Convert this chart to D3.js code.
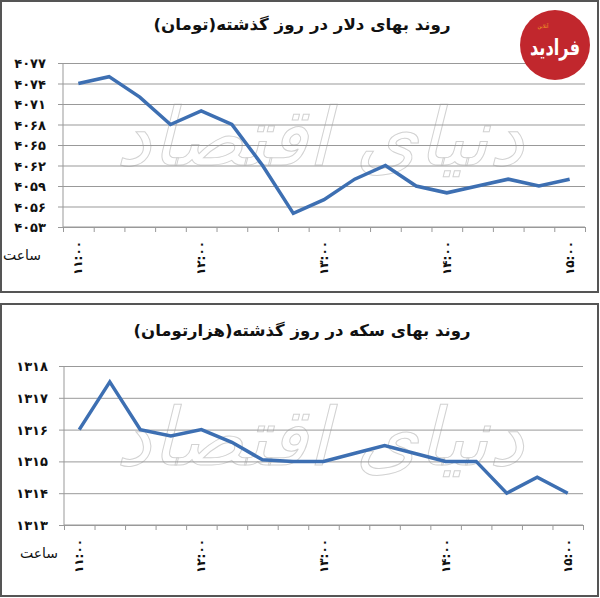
<!DOCTYPE html>
<html><head><meta charset="utf-8">
<script src="https://cdn.jsdelivr.net/npm/d3@7/dist/d3.min.js"></script>
<style>
html,body{margin:0;padding:0;background:#fff;}
svg{display:block;}
text{font-family:"DejaVu Sans",sans-serif;}
</style></head>
<body>
<svg id="c" width="600" height="598"></svg>
<script>
// ---- data ----
const times = ["11:00","11:15","11:30","11:45","12:00","12:15","12:30","12:45","13:00","13:15","13:30","13:45","14:00","14:15","14:30","14:45","15:00"];
const hourLabels = ["11:00","12:00","13:00","14:00","15:00"];
const dollarValues = [4074,4075,4072,4068,4070,4068,4062,4055,4057,4060,4062,4059,4058,4059,4060,4059,4060];
const dollarTicks = [4053,4056,4059,4062,4065,4068,4071,4074,4077];
const coinValues = [1316,1317.5,1316,1315.8,1316,1315.6,1315.05,1315,1315,1315.25,1315.5,1315.25,1315,1315,1314,1314.5,1314];
const coinTicks = [1313,1314,1315,1316,1317,1318];
const titles = ["روند بهای دلار در روز گذشته(تومان)", "روند بهای سکه در روز گذشته(هزارتومان)"];
const xAxisTitle = "ساعت";
const watermark = "دنیای اقتصاد";
const logoText = "فرادید";

const fa = s => String(s).replace(/\d/g, d => "۰۱۲۳۴۵۶۷۸۹"[d]);
const svg = d3.select("#c");

function panel(cfg){
  const g = svg.append("g");
  g.append("rect").attr("x",1).attr("y",cfg.top+1).attr("width",597).attr("height",cfg.h)
    .attr("fill","#fff").attr("stroke","#555").attr("stroke-width",2);
  g.append("text").attr("x",302).attr("y",cfg.titleY).attr("text-anchor","middle")
    .attr("font-size",16).attr("font-weight","bold").attr("fill","#111")
    .attr("direction","rtl").attr("textLength",cfg.titleW).attr("lengthAdjust","spacingAndGlyphs")
    .text(cfg.title);

  const y = d3.scaleLinear().domain(cfg.domain).range([cfg.y1,cfg.y0]);
  const xb = d3.scaleBand().domain(times).range([cfg.x0,cfg.x1]);
  const xi = d3.scaleLinear().domain([0,times.length]).range([cfg.x0,cfg.x1]);

  // watermark
  g.append("text").attr("x",320).attr("y",cfg.wmY).attr("text-anchor","middle")
    .attr("font-size",80).attr("fill","none").attr("stroke","#d2d2d2").attr("stroke-width",1)
    .attr("direction","rtl").attr("font-style","italic").text(watermark);

  const ga = g.append("g").attr("transform",`translate(${cfg.x0},0)`)
    .call(d3.axisLeft(y).tickValues(cfg.ticks).tickSize(5).tickFormat(""));
  ga.select(".domain").attr("stroke","#999").attr("d",`M0,${cfg.y0}V${cfg.y1}`);
  ga.selectAll(".tick line").attr("stroke","#999");
  ga.selectAll(".tick").append("line").attr("x1",0).attr("x2",cfg.x1-cfg.x0).attr("stroke","#999");

  g.selectAll(".yl").data(cfg.ticks).join("text")
    .attr("x",cfg.labX).attr("y",d=>y(d)+5).attr("text-anchor","end")
    .attr("font-size",13).attr("font-weight","bold").attr("fill","#111")
    .attr("letter-spacing",2.5).text(d=>fa(d));

  const gx = g.append("g").attr("transform",`translate(0,${cfg.y1})`)
    .call(d3.axisBottom(xi).tickValues(d3.range(times.length+1)).tickSize(5).tickFormat(""));
  gx.select(".domain").attr("stroke","#999").attr("d",`M${cfg.x0},0H${cfg.x1}`);
  gx.selectAll(".tick line").attr("stroke","#999");

  g.selectAll(".xl").data(hourLabels).join("text")
    .attr("transform",d=>`translate(${xb(d)+xb.bandwidth()/2+4},${cfg.y1+31}) rotate(-90)`)
    .attr("text-anchor","middle").attr("font-size",12).attr("font-weight","bold").attr("fill","#111")
    .attr("letter-spacing",1).text(d=>fa(d));

  g.append("text").attr("x",cfg.saatX).attr("y",cfg.y1+33).attr("text-anchor","middle")
    .attr("font-size",14).attr("fill","#111").attr("direction","rtl").text(xAxisTitle);

  const line = d3.line().x((d,i)=>xb(times[i])+xb.bandwidth()/2).y(d=>y(d));
  g.append("path").datum(cfg.values).attr("d",line).attr("fill","none")
    .attr("stroke","#3d6fb2").attr("stroke-width",3.5).attr("stroke-linejoin","miter");
}

panel({top:0,h:291,title:titles[0],titleY:30,titleW:297,domain:[4053,4077],ticks:dollarTicks,
  values:dollarValues,x0:63,x1:585,y0:63,y1:227,labX:46,wmY:165,saatX:22});
panel({top:303,h:292,title:titles[1],titleY:336,titleW:337,domain:[1313,1318],ticks:coinTicks,
  values:coinValues,x0:64,x1:583,y0:366,y1:525,labX:48,wmY:465,saatX:39});

// logo
const lg = svg.append("g").attr("transform","translate(555,45)");
lg.append("circle").attr("r",35).attr("fill","#c1272d");
lg.append("text").attr("y",10).attr("text-anchor","middle").attr("font-size",22).attr("font-weight","bold")
  .attr("fill","#fff").attr("direction","rtl").attr("textLength",50).attr("lengthAdjust","spacingAndGlyphs")
  .text(logoText);
lg.append("text").attr("x",-12).attr("y",-17).attr("text-anchor","middle").attr("font-size",5)
  .attr("fill","#f5a623").attr("direction","rtl").text("آنلاین");
</script>
</body></html>
